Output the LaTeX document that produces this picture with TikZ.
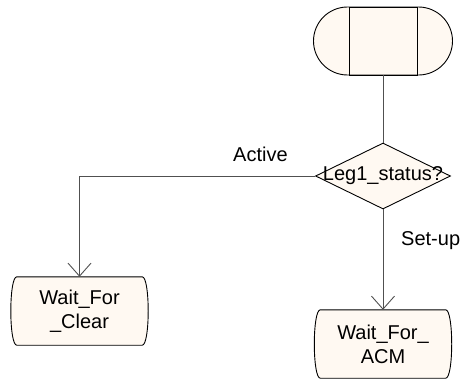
\documentclass[tikz,border=0pt]{standalone}
\usepackage{fontspec}
\setmainfont{Liberation Sans}
\usetikzlibrary{arrows.meta,shapes.geometric,shapes.misc}
\definecolor{cream}{RGB}{255,249,242}
\definecolor{lineg}{RGB}{80,80,80}
\pgfdeclarelayer{bg}
\pgfsetlayers{bg,main}
\begin{document}
\begin{tikzpicture}[x=1pt,y=-1pt,
  font=\fontsize{20}{24}\selectfont,
  conn/.style={draw=lineg, line width=0.9pt},
  arr/.style={conn, -{Straight Barb[length=13pt,width=23pt,line width=0.9pt]}},
  lbl/.style={inner sep=0pt, anchor=base west},
  shp/.style={draw=black, fill=cream, line width=0.9pt},
  statetext/.style={align=center, inner sep=0pt, minimum width=125pt, minimum height=68pt}]
\useasboundingbox (0,0) rectangle (463,380);

% start node
\node[rounded rectangle, shp, minimum width=139pt, minimum height=68pt, inner sep=0pt] (start) at (383,41) {};
\node[rectangle, draw=black, line width=0.9pt, minimum width=68pt, minimum height=68pt, inner sep=0pt] (startbox) at (start) {};

% decision
\node[diamond, shp, minimum width=135pt, minimum height=66pt, inner sep=0pt] (dec) at (383,176) {};
\node[inner sep=0pt] (dectext) at (dec) {Leg1\_status?};

% states
\node[statetext] (clear) at (79.5,311) {Wait\_For\\\_Clear};
\node[statetext] (acm) at (383,344) {Wait\_For\_\\ACM};
\begin{pgfonlayer}{bg}
\foreach \s in {clear,acm}{
  \path[shp] (\s.north west) -- (\s.north east)
    .. controls ([xshift=8pt]\s.north east) and ([xshift=8pt]\s.south east) .. (\s.south east)
    -- (\s.south west)
    .. controls ([xshift=-8pt]\s.south west) and ([xshift=-8pt]\s.north west) .. cycle;
}
\end{pgfonlayer}

% connectors
\draw[conn] (start.south) -- (dec.north);
\draw[arr] (dec.west) -| (clear.north);
\draw[arr] (dec.south) -- (acm.north);

% labels
\node[lbl] (lactive) at (233,161) {Active};
\node[lbl] (lsetup) at (401,245) {Set-up};
\end{tikzpicture}
\end{document}
